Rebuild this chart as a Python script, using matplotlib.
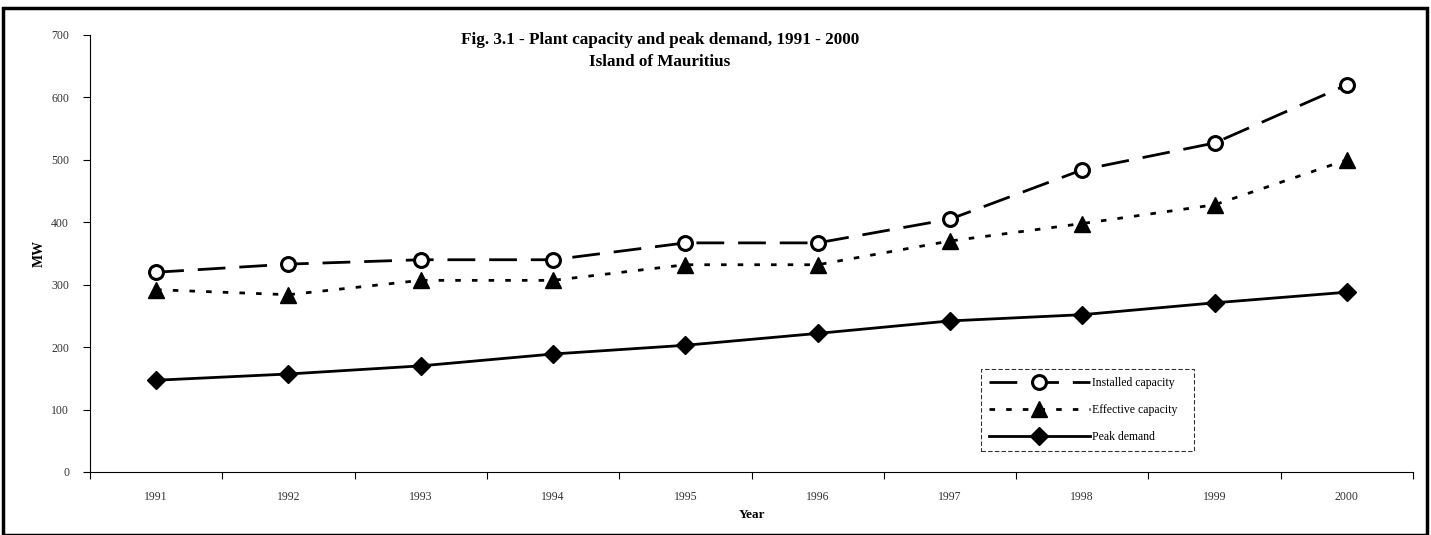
import matplotlib
matplotlib.use("Agg")
import matplotlib.pyplot as plt
import numpy as np
from matplotlib.patches import Rectangle

years = ["1991", "1992", "1993", "1994", "1995", "1996", "1997", "1998", "1999", "2000"]
installed = [320, 333, 340, 340, 367, 367, 405, 484, 527, 620]
effective = [292, 284, 307, 307, 332, 332, 370, 398, 428, 500]
peak = [147, 157, 170, 189, 203, 222, 242, 252, 271, 288]
yticks = [0, 100, 200, 300, 400, 500, 600, 700]

plt.rcParams['font.family'] = ['Liberation Serif', 'DejaVu Serif']

fig = plt.figure(figsize=(14.31, 5.35), dpi=100)
ax = fig.add_axes([90/1431, 1-472/535, (1413-90)/1431, (472-35)/535])

x = np.arange(len(years))
ax.plot(x, installed, color='black', lw=2, linestyle=(0, (10, 5)),
        marker='o', markersize=10, markerfacecolor='white', markeredgewidth=2.2,
        markeredgecolor='black', label='Installed capacity')
ax.plot(x, effective, color='black', lw=2, linestyle=(0, (2, 4)),
        marker='^', markersize=11, markerfacecolor='black', markeredgecolor='black',
        label='Effective capacity')
ax.plot(x, peak, color='black', lw=2, linestyle='-',
        marker='D', markersize=9, markerfacecolor='black', markeredgecolor='black',
        label='Peak demand')

ax.set_xlim(-0.5, len(years) - 0.5)
ax.set_ylim(0, 700)
ax.set_yticks(yticks)
ax.set_yticklabels([str(v) for v in yticks], fontsize=8.5, color='#333333')
ax.set_xticks(x)
ax.set_xticklabels(years, fontsize=8.5, color='#333333')
ax.tick_params(axis='x', which='major', length=0, pad=14)
ax.set_xticks(np.arange(-0.5, len(years), 1), minor=True)
ax.tick_params(axis='x', which='minor', length=5, direction='out', width=0.8)
ax.tick_params(axis='y', length=5, direction='out', width=0.8, pad=10)

for s in ['top', 'right']:
    ax.spines[s].set_visible(False)
for s in ['left', 'bottom']:
    ax.spines[s].set_linewidth(0.8)

ax.set_ylabel('MW', fontsize=10, fontweight='bold', labelpad=4)
ax.set_xlabel('Year', fontsize=9.5, fontweight='bold', labelpad=4)

fig.text(0.461, 1-40/535, 'Fig. 3.1 - Plant capacity and peak demand, 1991 - 2000',
         ha='center', va='center', fontsize=12.3, fontweight='bold')
fig.text(0.461, 1-62/535, 'Island of Mauritius',
         ha='center', va='center', fontsize=12.3, fontweight='bold')

leg = ax.legend(loc='lower left', bbox_to_anchor=((975-90)/1323, (472-457)/437, (1200-975)/1323, 92/437),
                mode='expand', fontsize=8.5, frameon=True, fancybox=False, handlelength=8.5,
                borderpad=0.7, labelspacing=1.25, handletextpad=0.2)
leg.get_frame().set_edgecolor('black')
leg.get_frame().set_linewidth(0.8)
leg.get_frame().set_linestyle((0, (4, 2)))

fig.patches.append(Rectangle((3/1431, 0.0), 1424/1431, 1-8/535, transform=fig.transFigure,
                             fill=False, edgecolor='black', linewidth=2.5))

fig.savefig('out.png', dpi=100)
